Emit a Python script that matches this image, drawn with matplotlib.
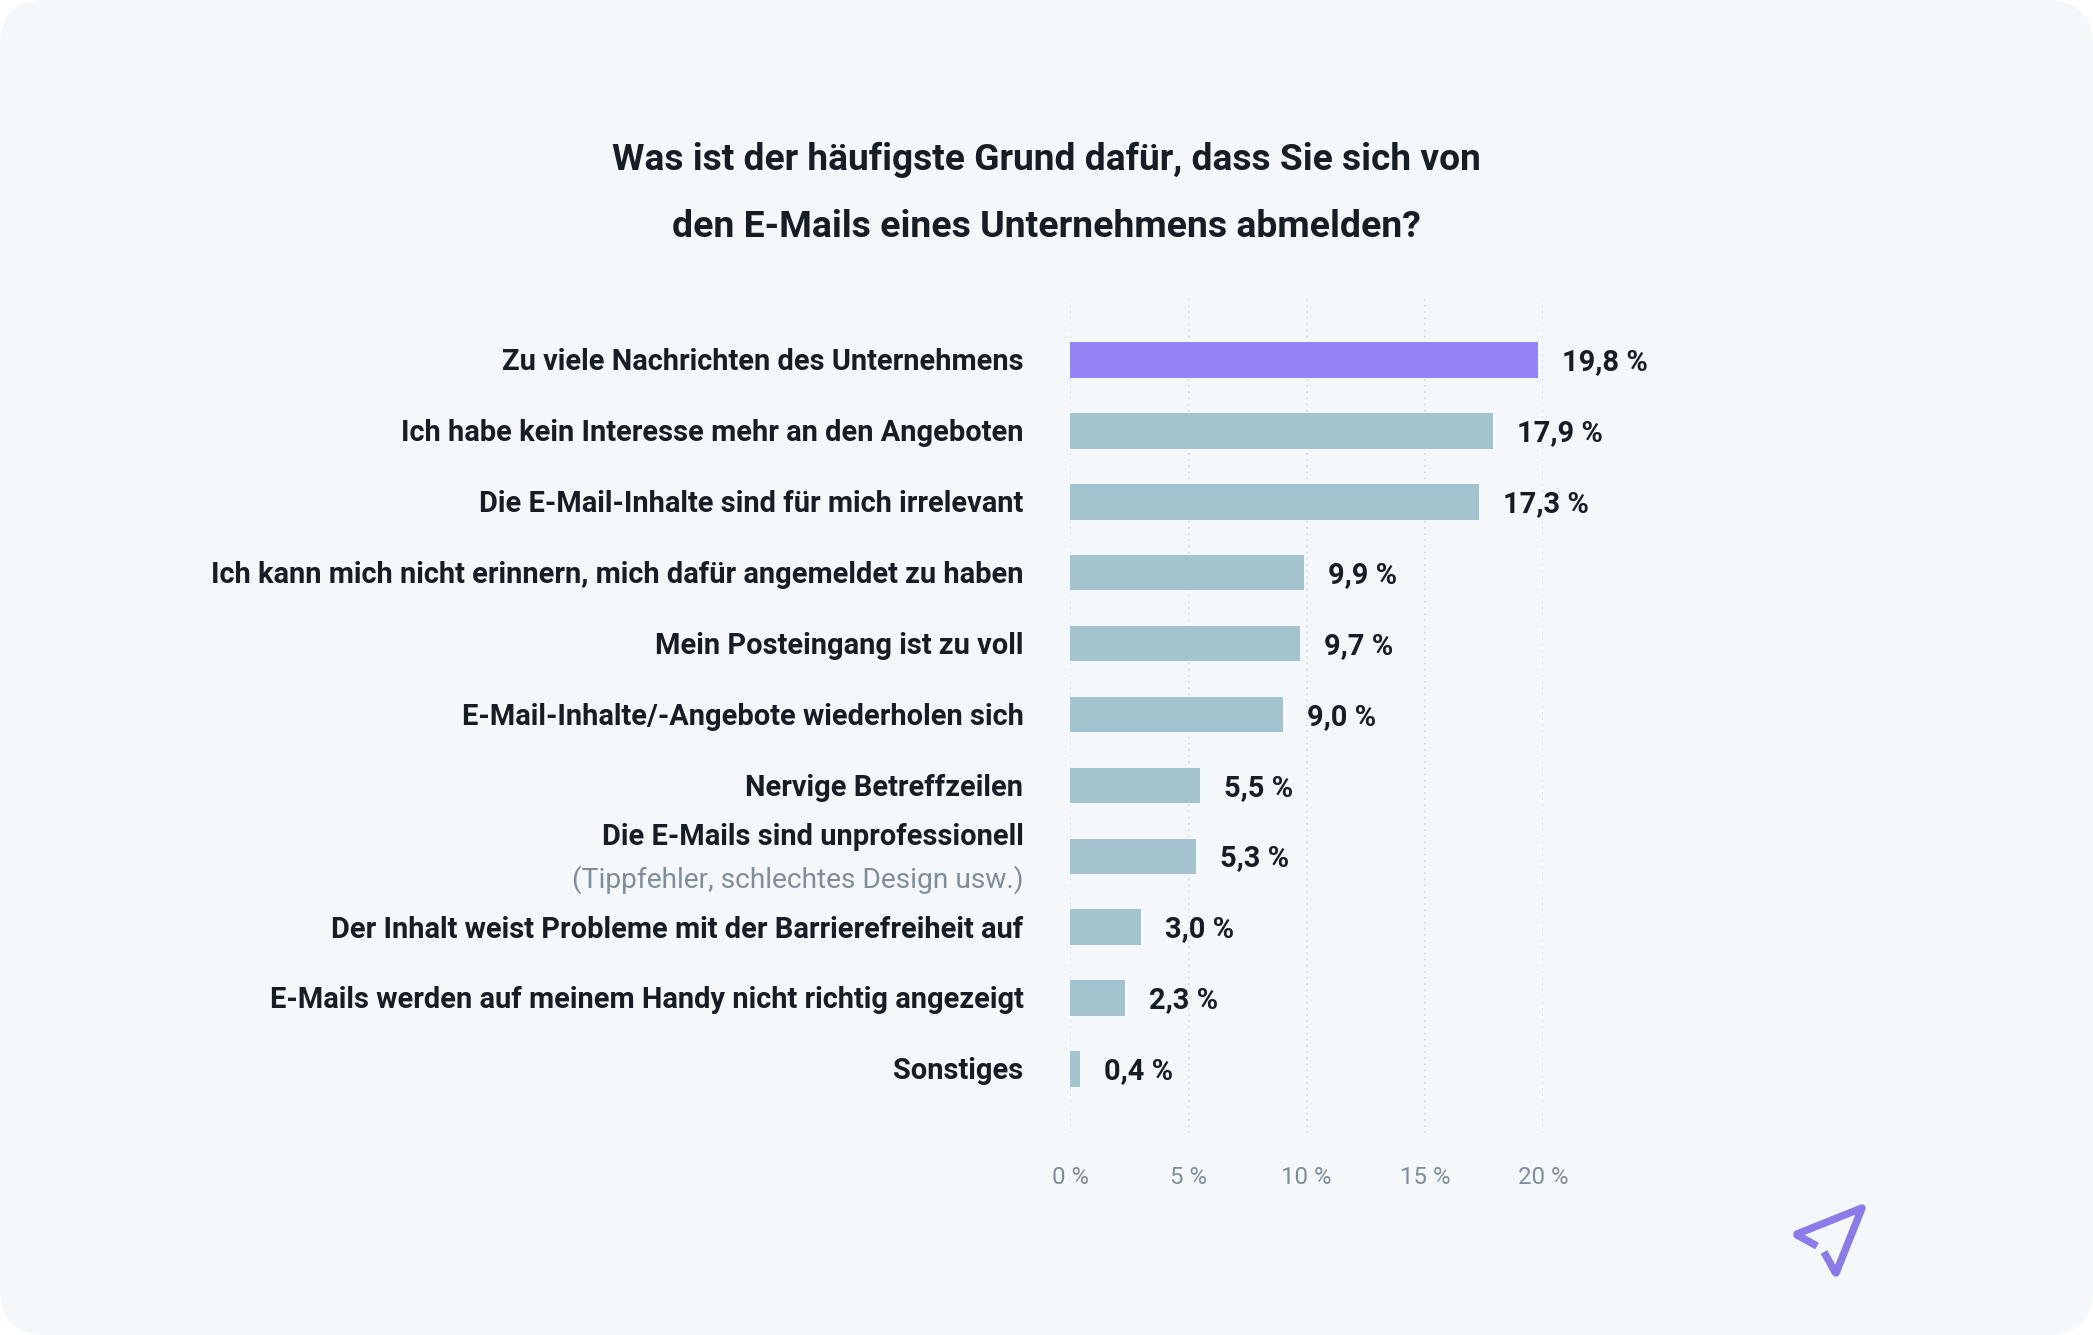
"""Abmeldegruende bar chart (share of answers, percent)."""
import matplotlib.pyplot as plt
from matplotlib.patches import FancyBboxPatch, PathPatch
from matplotlib.path import Path as MPath

W, H = 2093, 1335
DPI = 100

TITLE_LINES = [
    "Was ist der häufigste Grund dafür, dass Sie sich von",
    "den E-Mails eines Unternehmens abmelden?",
]
CATEGORIES = [
    "Zu viele Nachrichten des Unternehmens",
    "Ich habe kein Interesse mehr an den Angeboten",
    "Die E-Mail-Inhalte sind für mich irrelevant",
    "Ich kann mich nicht erinnern, mich dafür angemeldet zu haben",
    "Mein Posteingang ist zu voll",
    "E-Mail-Inhalte/-Angebote wiederholen sich",
    "Nervige Betreffzeilen",
    "Die E-Mails sind unprofessionell",
    "Der Inhalt weist Probleme mit der Barrierefreiheit auf",
    "E-Mails werden auf meinem Handy nicht richtig angezeigt",
    "Sonstiges",
]
SUBLABEL = "(Tippfehler, schlechtes Design usw.)"
SUBLABEL_INDEX = 7
VALUES = [19.8, 17.9, 17.3, 9.9, 9.7, 9.0, 5.5, 5.3, 3.0, 2.3, 0.4]
XTICKS = [0, 5, 10, 15, 20]

BG = "#f4f8fb"
INK = "#161d24"
GREY = "#808d98"
C_TOP = "#9584f5"
C_BAR = "#a3c4ce"
C_LOGO = "#8b7bea"

plt.rcParams["font.family"] = ["Roboto", "DejaVu Sans"]


def px(n):
    # pixels to points at this dpi
    return n * 72 / DPI


def main():
    fig = plt.figure(figsize=(W / DPI, H / DPI), dpi=DPI, facecolor="white")

    # card background and logo, in pixel coordinates
    bg = fig.add_axes([0, 0, 1, 1])
    bg.set_xlim(0, W)
    bg.set_ylim(H, 0)
    bg.axis("off")
    bg.add_patch(FancyBboxPatch((46, 46), W - 92, H - 92,
                                boxstyle="round,pad=46,rounding_size=46",
                                fc=BG, ec="none"))
    logo = [(1817, 1246), (1797, 1235), (1797, 1234), (1862, 1208), (1836, 1273), (1835, 1272),
            (1824, 1252)]
    bg.add_patch(PathPatch(MPath(logo), fc="none", ec=C_LOGO, lw=px(7.5),
                           joinstyle="round", capstyle="butt"))

    for text, y, size in zip(TITLE_LINES, [160, 227], [37.1, 37.4]):
        bg.text(1046.5, y, text, ha="center", va="center", fontsize=px(size),
                fontweight="bold", color=INK)

    # plot area: x 0..20 spans 1070.4..1543 px, bars every 70.9 px
    left, right, top, bottom = 1070.4, 1543.0, 295.0, 1133.0
    ax = fig.add_axes([left / W, 1 - bottom / H, (right - left) / W, (bottom - top) / H])
    ax.patch.set_alpha(0)
    ax.set_xlim(0, 20)
    ax.set_ylim((bottom - 360) / 70.9, (top - 360) / 70.9)

    ypos = list(range(len(VALUES)))
    colors = [C_TOP] + [C_BAR] * (len(VALUES) - 1)
    ax.barh(ypos, VALUES, height=0.5, color=colors, zorder=3)

    ax.set_xticks(XTICKS)
    ax.set_xticklabels([f"{t} %" for t in XTICKS], fontsize=px(24), color=GREY)
    ax.set_yticks([])
    ax.tick_params(axis="x", length=0, pad=px(32.5))
    ax.grid(axis="x", color="#d3dade", linestyle=(0, (1, 2.7)), linewidth=1.2, zorder=0)
    for s in ax.spines.values():
        s.set_visible(False)

    for y, v, label in zip(ypos, VALUES, CATEGORIES):
        ax.annotate(f"{v:.1f} %".replace(".", ","), (v, y), xytext=(px(24), px(-10.3)),
                    textcoords="offset points", ha="left", va="baseline",
                    fontsize=px(29), fontweight="bold", color=INK)
        dy = 11 if y == SUBLABEL_INDEX else -10.3
        ax.annotate(label, (0, y), xytext=(px(-47), px(dy)), textcoords="offset points",
                    ha="right", va="baseline", fontsize=px(29),
                    fontweight="bold", color=INK)
    ax.annotate(SUBLABEL, (0, SUBLABEL_INDEX), xytext=(px(-47), px(-31.4)),
                textcoords="offset points", ha="right", va="baseline",
                fontsize=px(28.1), color=GREY)

    fig.savefig("out.png", dpi=DPI)


if __name__ == "__main__":
    main()
